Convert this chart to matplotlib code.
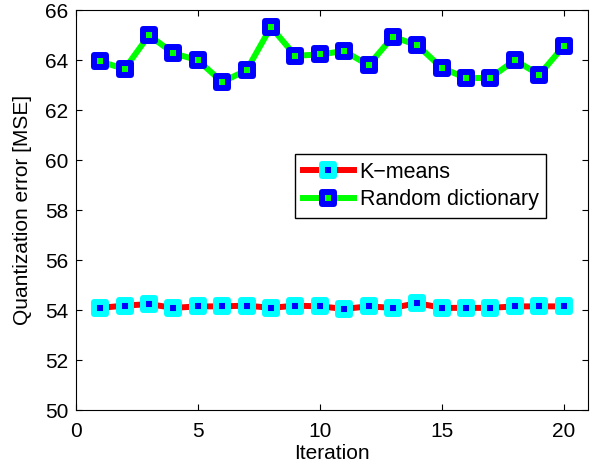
import numpy as np
import matplotlib.pyplot as plt
from matplotlib.markers import MarkerStyle

plt.rcParams['font.family'] = ['Liberation Sans', 'DejaVu Sans']

iteracion = list(range(1, 21))
kmeans = [54.09, 54.18, 54.24, 54.09, 54.15, 54.15, 54.18, 54.09, 54.18, 54.15,
          54.05, 54.15, 54.09, 54.28, 54.09, 54.09, 54.09, 54.15, 54.15, 54.15]
aleatorio = [63.95, 63.65, 65.0, 64.28, 64.0, 63.13, 63.6, 65.33, 64.18, 64.23,
             64.37, 63.8, 64.94, 64.6, 63.7, 63.28, 63.3, 64.0, 63.42, 64.56]

fig = plt.figure(figsize=(5.97, 4.66), dpi=100)
ax = fig.add_axes([0.127, 0.12, 0.858, 0.858])

cuadrado = MarkerStyle('s', joinstyle='round')
ax.plot(iteracion, kmeans, color='red', linewidth=4.3, marker=cuadrado, markersize=8,
        markerfacecolor='blue', markeredgecolor='cyan', markeredgewidth=4.3,
        label='K\u2212means')
ax.plot(iteracion, aleatorio, color='#00ff00', linewidth=4.3, marker=cuadrado, markersize=8,
        markerfacecolor='#00ff00', markeredgecolor='blue', markeredgewidth=4.3,
        label='Random dictionary')

ax.set_xlim(0, 21)
ax.set_ylim(50, 66)
ax.set_xticks([0, 5, 10, 15, 20])
ax.set_yticks(range(50, 67, 2))
ax.tick_params(direction='in', top=True, right=True, labelsize=15, length=4)
ax.tick_params(axis='x', pad=8.5)
ax.tick_params(axis='y', pad=5.5)
ax.set_xlabel('Iteration', fontsize=15, labelpad=2)
ax.set_ylabel('Quantization error [MSE]', fontsize=15, labelpad=9)

ax.legend(loc='upper right', bbox_to_anchor=(0.918, 0.64), borderaxespad=0,
          fontsize=15.5, fancybox=False, edgecolor='black', framealpha=1,
          handlelength=2.4, handletextpad=0.25, borderpad=0.35, labelspacing=0.3)

fig.savefig('out.png', dpi=100)
